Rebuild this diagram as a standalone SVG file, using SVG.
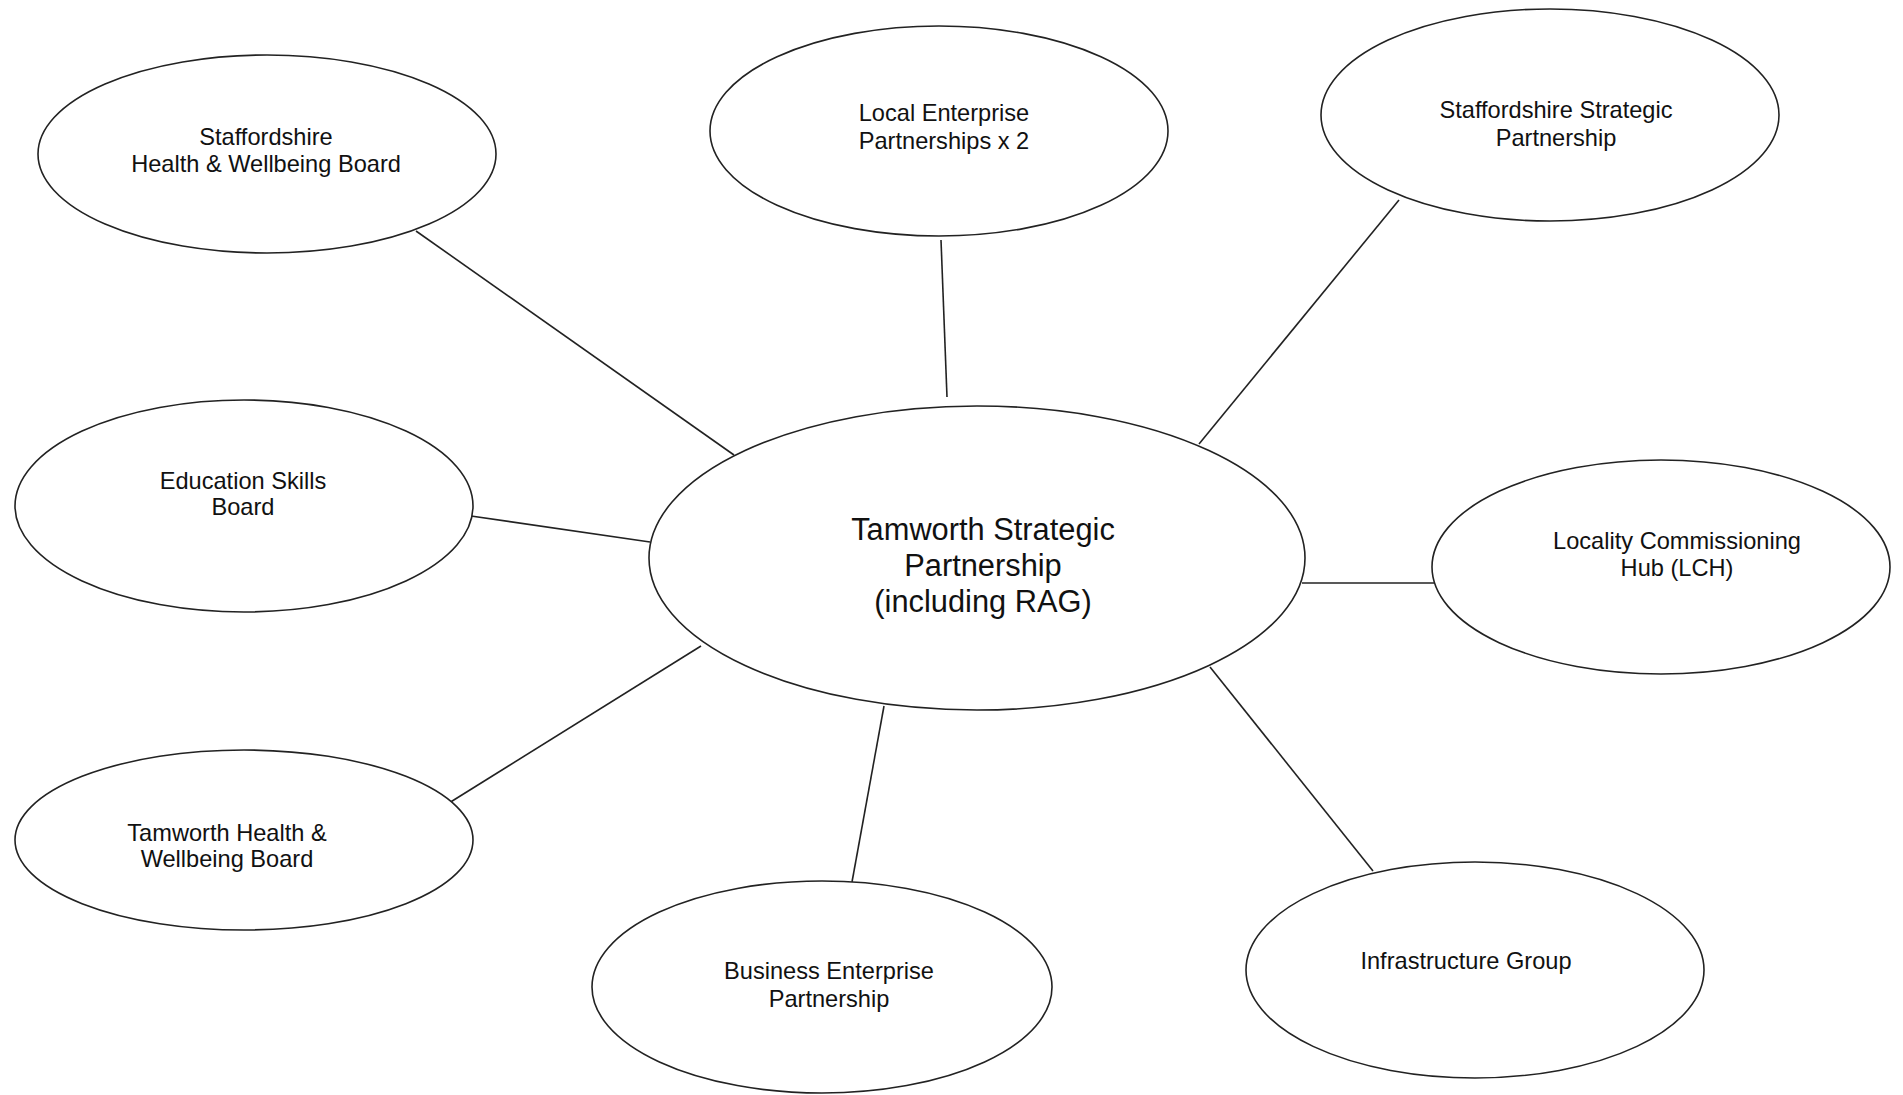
<svg xmlns="http://www.w3.org/2000/svg" width="1903" height="1095" viewBox="0 0 1903 1095">
<style>
.n{fill:#fff;stroke:#222;stroke-width:1.6}
.t{font-family:"Liberation Sans",Arial,sans-serif;font-size:23.6px;fill:#111;text-anchor:middle}
.tc{font-family:"Liberation Sans",Arial,sans-serif;font-size:30.8px;fill:#111;text-anchor:middle}
.c line{stroke:#222;stroke-width:1.6}
</style>
<rect width="1903" height="1095" fill="#fff"/>
<g class="c" id="connectors">
<line x1="416" y1="231" x2="734" y2="455"/>
<line x1="941" y1="240" x2="947" y2="397"/>
<line x1="1399" y1="200" x2="1199" y2="444"/>
<line x1="471" y1="516" x2="650" y2="542"/>
<line x1="1302" y1="583" x2="1436" y2="583"/>
<line x1="701" y1="646" x2="449" y2="803"/>
<line x1="884" y1="706" x2="852" y2="882"/>
<line x1="1210" y1="667" x2="1373" y2="871"/>
</g>
<g id="staffs-hwb"><ellipse class="n" cx="267" cy="154" rx="229" ry="99"/><text class="t" x="266" y="145">Staffordshire</text><text class="t" x="266" y="172">Health &amp; Wellbeing Board</text></g>
<g id="lep"><ellipse class="n" cx="939" cy="131" rx="229" ry="105"/><text class="t" x="944" y="121">Local Enterprise</text><text class="t" x="944" y="149">Partnerships x 2</text></g>
<g id="ssp"><ellipse class="n" cx="1550" cy="115" rx="229" ry="106"/><text class="t" x="1556" y="118">Staffordshire Strategic</text><text class="t" x="1556" y="146">Partnership</text></g>
<g id="esb"><ellipse class="n" cx="244" cy="506" rx="229" ry="106"/><text class="t" x="243" y="489">Education Skills</text><text class="t" x="243" y="515">Board</text></g>
<g id="tsp"><ellipse class="n" cx="977" cy="558" rx="328" ry="152"/><text class="tc" x="983" y="540">Tamworth Strategic</text><text class="tc" x="983" y="576">Partnership</text><text class="tc" x="983" y="612">(including RAG)</text></g>
<g id="lch"><ellipse class="n" cx="1661" cy="567" rx="229" ry="107"/><text class="t" x="1677" y="549">Locality Commissioning</text><text class="t" x="1677" y="576">Hub (LCH)</text></g>
<g id="thwb"><ellipse class="n" cx="244" cy="840" rx="229" ry="90"/><text class="t" x="227" y="841">Tamworth Health &amp;</text><text class="t" x="227" y="867">Wellbeing Board</text></g>
<g id="bep"><ellipse class="n" cx="822" cy="987" rx="230" ry="106"/><text class="t" x="829" y="979">Business Enterprise</text><text class="t" x="829" y="1007">Partnership</text></g>
<g id="infra"><ellipse class="n" cx="1475" cy="970" rx="229" ry="108"/><text class="t" x="1466" y="969">Infrastructure Group</text></g>
</svg>
